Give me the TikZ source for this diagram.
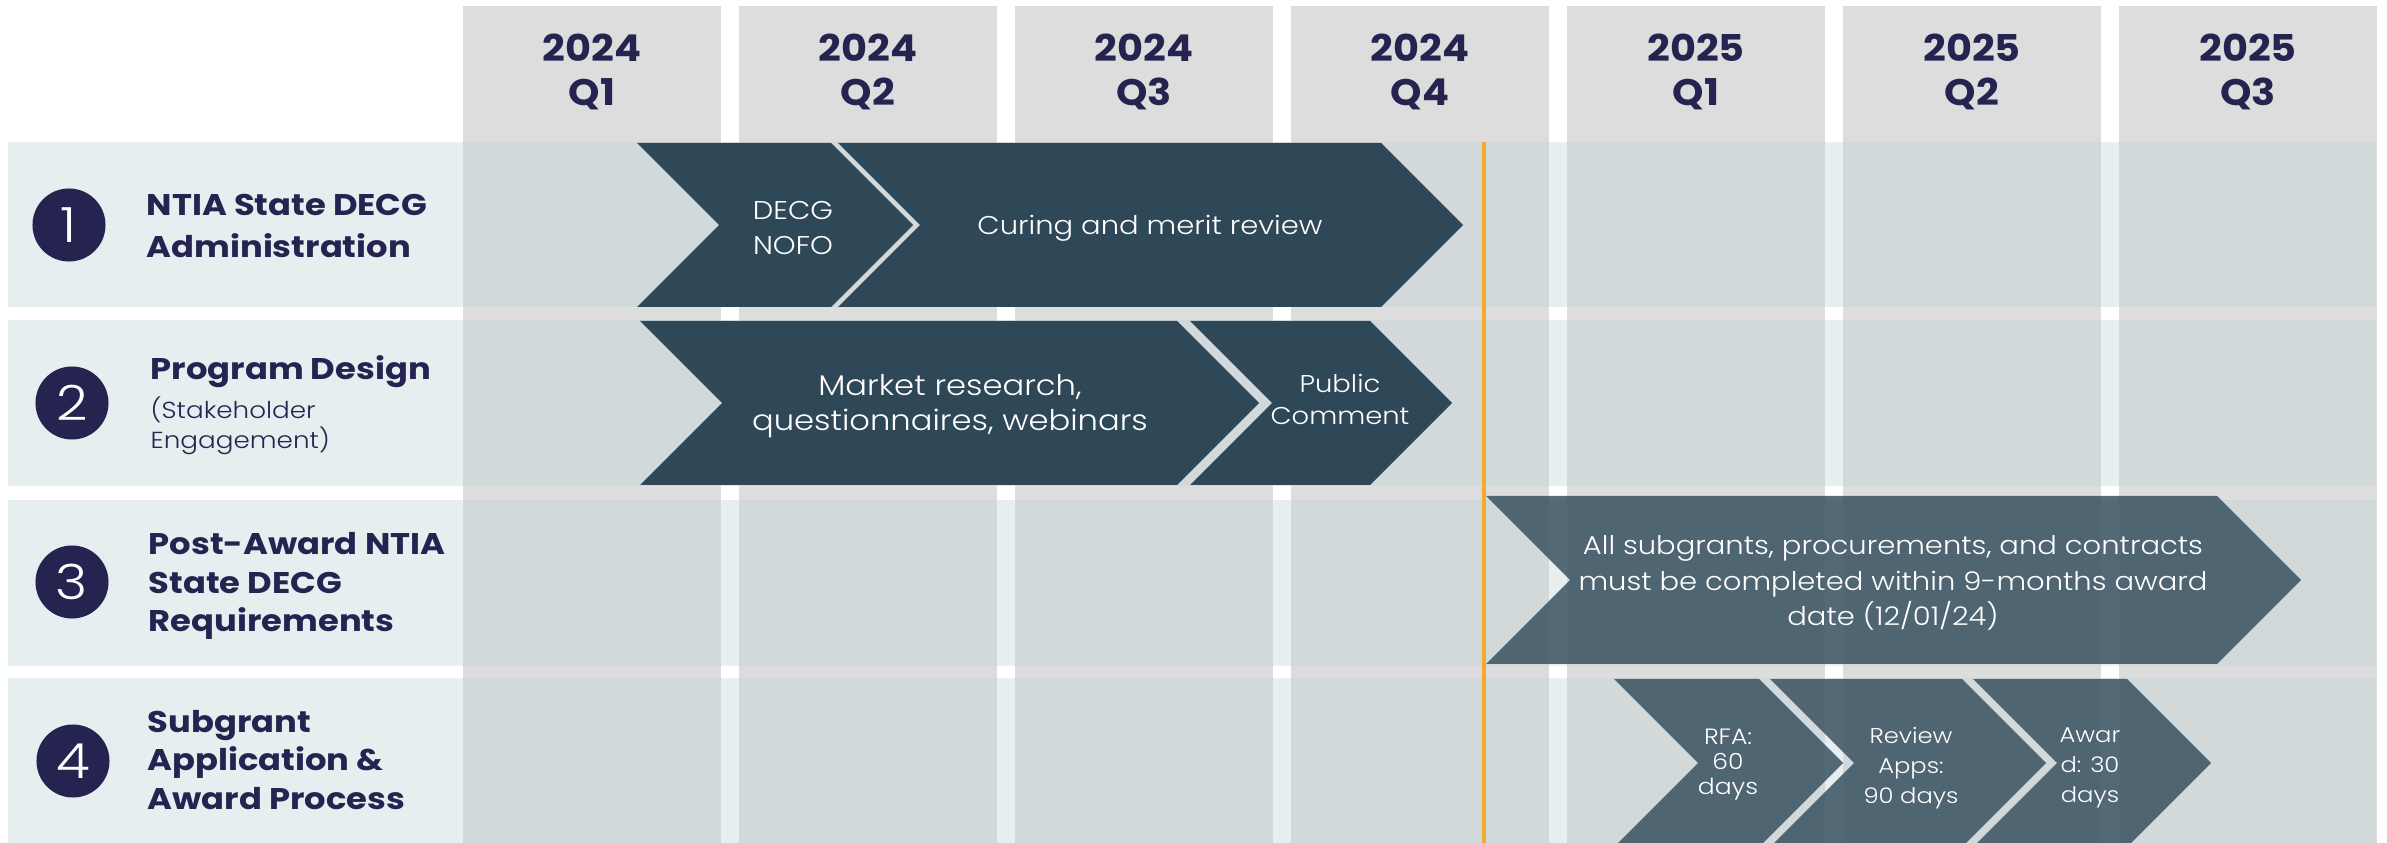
\documentclass[tikz,border=0pt]{standalone}
\usepackage{fontspec}
\setmainfont{Poppins}[FakeStretch=1.13]
\newfontfamily\lightfont{Poppins Light}[FakeStretch=1.13]
\newfontfamily\hdrfont{Poppins}[FakeStretch=1.08]
\usetikzlibrary{positioning}

\definecolor{navy}{RGB}{37,36,80}
\definecolor{hdrgray}{RGB}{221,221,221}
\definecolor{rowblue}{RGB}{192,212,218}
\definecolor{slate}{RGB}{47,72,88}
\definecolor{deadline}{RGB}{245,170,45}

% chevron: [options] left x, right x, top y, bottom y
\newcommand{\chevron}[5][]{%
  \fill[slate,#1] (#2,#4) -- (#3,#4) -- ({#3+(#5-#4)/2},{(#4+#5)/2}) -- (#3,#5)
    -- (#2,#5) -- ({#2+(#5-#4)/2},{(#4+#5)/2}) -- cycle;}

\begin{document}
\begin{tikzpicture}[x=0.01cm, y=-0.01cm,
  hdr/.style={font=\hdrfont\bfseries\fontsize{10.5}{12.5}\selectfont, text=navy, align=center, inner sep=0pt},
  rowlabel/.style={font=\bfseries\fontsize{8.5}{11}\selectfont, text=navy, align=left, anchor=west, inner sep=0pt},
  sublabel/.style={font=\lightfont\fontsize{6.6}{8.5}\selectfont, text=navy, align=left, inner sep=0pt},
  num/.style={circle, fill=navy, text=white, minimum size=0.73cm, inner sep=0pt, font=\lightfont\fontsize{13.8}{14}\selectfont},
  chevtext/.style={text=white, align=center, inner sep=0pt, font=\lightfont\fontsize{7.3}{10}\selectfont},
]
  \useasboundingbox (0,0) rectangle (2387,843);

  % quarter columns
  \foreach \yr/\q [count=\i from 0] in {2024/Q1,2024/Q2,2024/Q3,2024/Q4,2025/Q1,2025/Q2,2025/Q3}{
    \fill[hdrgray] ({463+276*\i},6) rectangle ++(258,837);
    \node[hdr] (q\i) at ({592+276*\i},72) {\yr\\\q};
  }

  % row bands
  \foreach \ya/\yb in {142/307,320/486,500/666,678/843}
    \fill[rowblue, fill opacity=0.4] (8,\ya) rectangle (2376,\yb);

  % phases
  \chevron{637}{831}{143}{307}
  \chevron{838}{1381}{143}{307}
  \chevron{640}{1177}{321}{485}
  \chevron{1190}{1370}{321}{485}
  \chevron[fill opacity=0.8]{1486}{2217}{496}{664}
  \chevron[fill opacity=0.8]{1614}{1759}{679}{847}
  \chevron[fill opacity=0.8]{1770}{1962}{679}{847}
  \chevron[fill opacity=0.8]{1973}{2127}{679}{847}

  \draw[deadline, line width=1.1pt] (1484,142) -- (1484,843);

  % row titles
  \node[num] (n1) at (69,225) {1};
  \node[num] (n2) at (72,403) {2};
  \node[num] (n3) at (72,582) {3};
  \node[num] (n4) at (73,761) {4};
  \node[rowlabel, font=\bfseries\fontsize{8.5}{11.8}\selectfont] (lab1) at (146,226) {NTIA State DECG\\Administration};
  \node[rowlabel, anchor=base west] (lab2) at (150,380) {Program Design};
  \node[sublabel, below=0.07cm of lab2.south west, anchor=north west] (lab2s) {(Stakeholder\\Engagement)};
  \node[rowlabel] (lab3) at (148,586) {Post-Award NTIA\\State DECG\\Requirements};
  \node[rowlabel] (lab4) at (147,760) {Subgrant\\Application \&\\Award Process};

  % phase texts
  \node[chevtext] (nofo) at (793,228) {DECG\\NOFO};
  \node[chevtext, anchor=base] (curing) at (1150,235) {Curing and merit review};
  \node[chevtext, font=\lightfont\fontsize{8.1}{10}\selectfont] (market) at (950,406) {Market research,\\questionnaires, webinars};
  \node[chevtext, font=\lightfont\fontsize{6.9}{9.1}\selectfont] (public) at (1340,399) {Public\\Comment};
  \node[chevtext] (req) at (1893,583) {All subgrants, procurements, and contracts\\must be completed within 9-months award\\date (12/01/24)};
  \node[chevtext, font=\lightfont\fontsize{6.3}{7.1}\selectfont] (rfa) at (1728,765) {RFA:\\60\\days};
  \node[chevtext, font=\lightfont\fontsize{6.1}{8.5}\selectfont] (review) at (1911,768) {Review\\Apps:\\90 days};
  \node[chevtext, font=\lightfont\fontsize{6.1}{8.5}\selectfont] (award) at (2090,768) {Awar\\d: 30\\days};
\end{tikzpicture}
\end{document}
